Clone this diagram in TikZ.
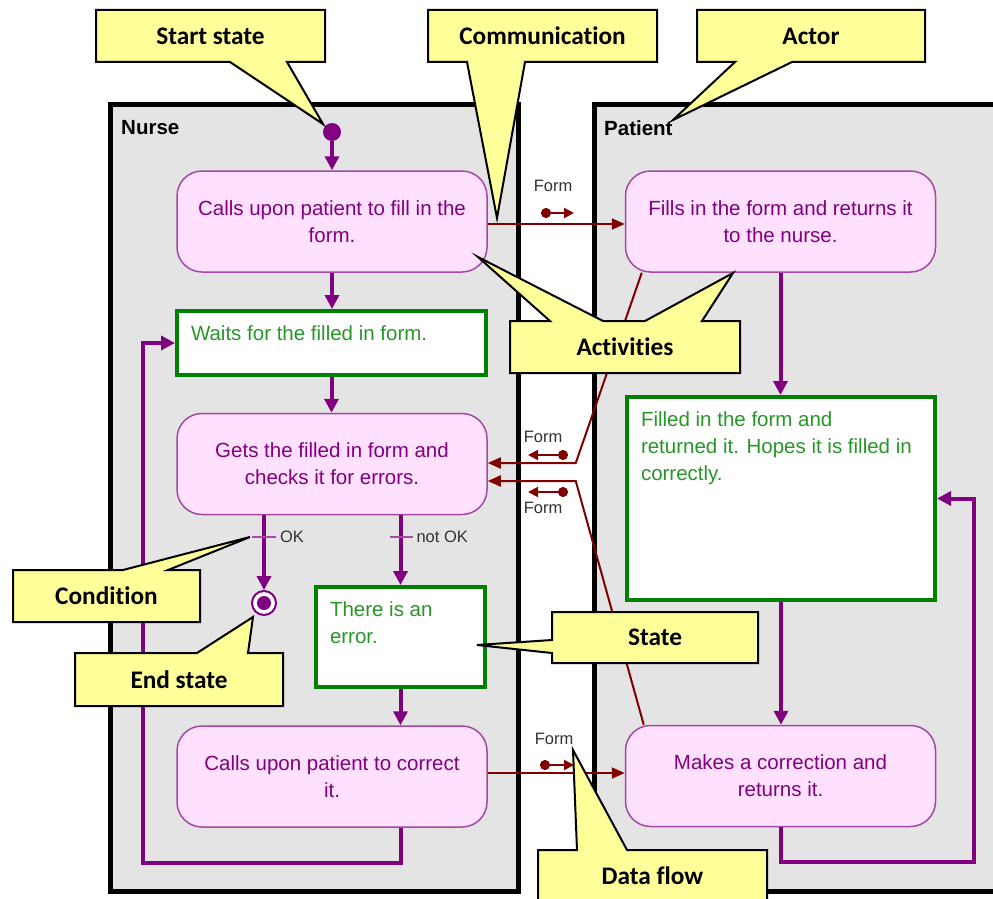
\documentclass[tikz,border=0pt]{standalone}
\usepackage{fontspec}
\setmainfont{Liberation Sans}
\newfontfamily\callfont[Ligatures={NoCommon,NoContextual}]{Carlito}
\usetikzlibrary{arrows.meta,calc}
\definecolor{lanegray}{RGB}{228,228,228}
\definecolor{actfill}{RGB}{255,225,255}
\definecolor{actborder}{RGB}{163,73,164}
\definecolor{acttext}{RGB}{128,0,128}
\definecolor{stgreen}{RGB}{0,128,0}
\definecolor{sttext}{RGB}{40,150,40}
\definecolor{flowpurple}{RGB}{128,0,128}
\definecolor{dred}{RGB}{128,0,0}
\definecolor{cyellow}{RGB}{255,255,153}
\definecolor{lbl}{RGB}{50,50,50}
\newcommand\myBody{\fontsize{20.5pt}{27pt}\selectfont}
\newcommand\mySmall{\fontsize{16.5pt}{20pt}\selectfont}
\newcommand\myCall{\callfont\bfseries\fontsize{25.3pt}{30pt}\selectfont}
\newcommand\stc[3]{\parbox[c][#2][t]{#1}{\myBody\raggedright #3}}
\begin{document}
\begin{tikzpicture}[x=1pt,y=-1pt,
  lane/.style={draw=black, line width=5pt, fill=lanegray},
  lanelabel/.style={font=\myBody\bfseries, text=black, inner sep=0pt, anchor=west},
  act/.style={draw=actborder, fill=actfill, line width=1.5pt, rounded corners=25pt,
    minimum width=310pt, minimum height=101pt, align=center, text=acttext, font=\myBody},
  stbox/.style={draw=stgreen, fill=white, line width=4pt, inner xsep=14pt, inner ysep=15pt, text=sttext},
  flow/.style={draw=flowpurple, line width=4pt, -{Triangle[length=14pt,width=14pt]}},
  dflow/.style={draw=dred, line width=2pt, -{Triangle[length=13pt,width=11pt]}},
  dsym/.style={draw=dred, line width=2pt, {Circle[length=10pt]}-{Triangle[length=10pt,width=10pt]}},
  flabel/.style={font=\mySmall, text=lbl, inner sep=0pt},
  tick/.style={draw=flowpurple!70, line width=2pt},
  callout/.style={draw=black, line width=2pt, fill=cyellow, line join=miter},
  ctext/.style={font=\myCall, text=black, inner sep=0pt}]
\useasboundingbox (0,0) rectangle (993,899);
\clip (0,0) rectangle (993,899);
\fill[white] (0,0) rectangle (993,899);

% lanes
\draw[lane] (110,104) rectangle (518,891);
\draw[lane] (594,104) rectangle (1015,891);
\node[lanelabel] (nurse) at (121,128) {Nurse};
\node[lanelabel] (patient) at (604,128) {Patient};

% nodes
\node[circle, fill=flowpurple, minimum size=18pt, inner sep=0pt] (start) at (332,132) {};
\node[act] (a1) at (332,221.5) {Calls upon patient to fill in the\\form.};
\node[act] (p1) at (780.5,221.5) {Fills in the form and returns it\\to the nurse.};
\node[stbox] (w) at (331.5,343) {\stc{281pt}{34pt}{Waits for the filled in form.}};
\node[act] (a2) at (332,464) {Gets the filled in form and\\checks it for errors.};
\node[circle, draw=flowpurple, line width=2pt, fill=white, minimum size=24pt, inner sep=0pt] (end) at (264,603) {};
\fill[flowpurple] (end.center) circle (7);
\node[stbox] (e) at (400.5,637) {\stc{141pt}{70pt}{There is an\\error.}};
\node[act] (a3) at (332,776.5) {Calls upon patient to correct\\it.};
\node[stbox] (f) at (781,498.5) {\stc{280pt}{173pt}{Filled in the form and\\returned it. Hopes it is filled in\\correctly.}};
\node[act] (p2) at (780.5,776) {Makes a correction and\\returns it.};

% control flow
\draw[flow] (start.south) -- (a1.north);
\draw[flow] (a1.south) -- (a1.south |- w.north);
\draw[flow] (w.south) -- (w.south |- a2.north);
\draw[flow] (end.center |- a2.south) -- (end.north);
\draw[flow] (e.center |- a2.south) -- (e.north);
\draw[flow] (e.south) -- (e.south |- a3.north);
\draw[flow] (e.center |- a3.south) -- ++(0,35) -| ($(w.west)+(-32,0)$) -- (w.west);
\draw[flow] (p1.south) -- (p1.south |- f.north);
\draw[flow] (f.south) -- (f.south |- p2.north);
\draw[flow] (p2.south) -- ++(0,35) -| ($(f.east)+(37,0)$) -- (f.east);

% conditions
\draw[tick] ($(end.center |- a2.south)+(-12,22)$) -- ++(24,0) node[flabel, anchor=west, xshift=3pt] (okl) {OK};
\draw[tick] ($(e.center |- a2.south)+(-11,22)$) -- ++(23,0) node[flabel, anchor=west, xshift=3pt] (nokl) {not OK};

% data flows
\draw[dflow] ($(a1.east)+(0,2.5)$) -- ($(p1.west)+(0,2.5)$);
\draw[dflow] ($(p1.south west)+(17,0)$) -- ($(a2.east)+(88,-1)$) -- ($(a2.east)+(0,-1)$);
\draw[dflow] ($(p2.north west)+(19,0)$) -- ($(a2.east)+(88,17)$) -- ($(a2.east)+(0,17)$);
\draw[dflow] ($(a3.east)+(0,-3.5)$) -- ($(p2.west)+(0,-3)$);

\node[flabel] (fl1) at (553,186) {Form};
\draw[dsym] (541,213) -- (574,213);
\node[flabel] (fl2) at (543,437) {Form};
\draw[dsym] (568,455) -- (528,455);
\draw[dsym] (568,492) -- (528,492);
\node[flabel] (fl3) at (543,508) {Form};
\node[flabel] (fl4) at (554,739) {Form};
\draw[dsym] (540,765) -- (574,765);

% callouts
\draw[callout] (96,10) -- (325,10) -- (325,62) -- (287,62) -- (323,124) -- (230,62) -- (96,62) -- cycle;
\node[ctext] (cs) at (210.5,36) {Start state};
\draw[callout] (428,10) -- (657,10) -- (657,62) -- (525,62) -- (497,218) -- (467,62) -- (428,62) -- cycle;
\node[ctext] (cc) at (542.5,36) {Communication};
\draw[callout] (697,10) -- (925,10) -- (925,62) -- (792,62) -- (673,120) -- (735,62) -- (697,62) -- cycle;
\node[ctext] (ca) at (811,36) {Actor};
\draw[callout] (510,321) -- (550,321) -- (478,257) -- (603,321) -- (645,321) -- (733,273) -- (702,321) -- (740,321) -- (740,373) -- (510,373) -- cycle;
\node[ctext] (cact) at (625,347) {Activities};
\draw[callout] (13,570) -- (123,570) -- (250,537) -- (168,570) -- (200,570) -- (200,622) -- (13,622) -- cycle;
\node[ctext] (ccond) at (106.5,596) {Condition};
\draw[callout] (75,653) -- (197,653) -- (253,617) -- (248,653) -- (283,653) -- (283,706) -- (75,706) -- cycle;
\node[ctext] (cend) at (179,680) {End state};
\draw[callout] (552,612) -- (758,612) -- (758,663) -- (552,663) -- (552,653) -- (477,645) -- (552,640) -- cycle;
\node[ctext] (cst) at (655,637.5) {State};
\draw[callout] (538,850) -- (577,850) -- (573,750) -- (627,850) -- (767,850) -- (767,920) -- (538,920) -- cycle;
\node[ctext] (cdf) at (652.5,876) {Data flow};
\end{tikzpicture}
\end{document}
